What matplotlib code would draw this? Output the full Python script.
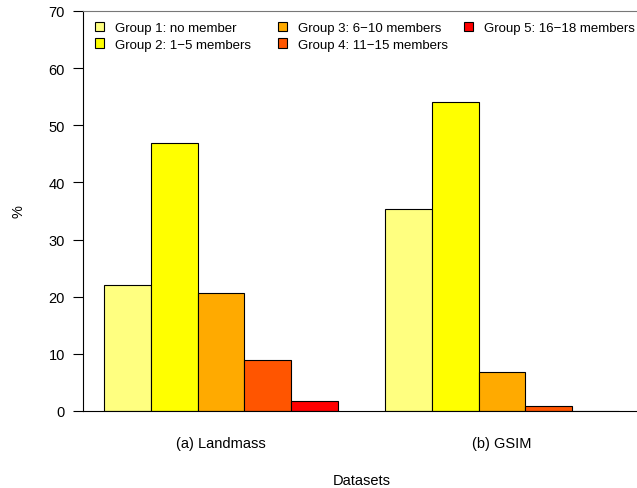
import numpy as np
import matplotlib.pyplot as plt
from matplotlib.patches import Patch

plt.rcParams['font.family'] = ['Liberation Sans', 'DejaVu Sans']

datasets = ['(a) Landmass', '(b) GSIM']
groups = ['Group 1: no member', 'Group 2: 1\u22125 members', 'Group 3: 6\u221210 members',
          'Group 4: 11\u221215 members', 'Group 5: 16\u221218 members']
colors = ['#FFFF80', '#FFFF00', '#FFAA00', '#FF5500', '#FF0000']

landmass = [22.0, 46.9, 20.6, 8.9, 1.7]
gsim = [35.4, 54.1, 6.8, 0.8, 0.0]
values = np.array([landmass, gsim])

fig = plt.figure(figsize=(6.37, 4.89), dpi=100)
ax = fig.add_axes([0.131, 0.1575, 0.873, 0.818])

n_groups, n_bars = values.shape
fs = 10.5
lfs = 9.5
for g in range(n_groups):
    lefts = 1 + g * (n_bars + 1) + np.arange(n_bars)
    ax.bar(lefts, values[g], width=1, align='edge', color=colors,
           edgecolor='black', linewidth=0.8, zorder=2)

centers = 1 + np.arange(n_groups) * (n_bars + 1) + n_bars / 2
ax.set_xticks(centers)
ax.set_xticklabels(datasets, fontsize=fs)
ax.tick_params(axis='x', length=0, pad=18)
ax.set_xlim(0.56, 12.44)
ax.set_ylim(0, 70)
ax.set_yticks(np.arange(0, 71, 10))
ax.tick_params(axis='y', length=7.2, width=0.8, pad=6, labelsize=fs)

ax.spines['right'].set_visible(False)
ax.spines['top'].set_color('#777777')
ax.spines['left'].set_linewidth(0.8)
ax.spines['bottom'].set_linewidth(0.8)
ax.spines['top'].set_linewidth(0.8)

ax.set_xlabel('Datasets', fontsize=fs, va='center')
ax.xaxis.set_label_coords(0.5, -0.1725)
ax.set_ylabel('%', fontsize=fs, va='center')
ax.yaxis.set_label_coords(-0.1176, 0.5)

# legend: three columns with uniform spacing
cols = [[0, 1], [2, 3], [4]]
col_x = [0.0016, 0.330, 0.665]
legs = []
for cx, idx in zip(col_x, cols):
    handles = [Patch(facecolor=colors[i], edgecolor='black', linewidth=0.8) for i in idx]
    leg = ax.legend(handles, [groups[i] for i in idx], loc='upper left',
                    bbox_to_anchor=(cx, 1.0), frameon=False, fontsize=lfs,
                    handlelength=0.7, handleheight=0.7, handletextpad=0.82,
                    labelspacing=0.35, borderaxespad=0.4)
    legs.append(leg)
for leg in legs[:-1]:
    ax.add_artist(leg)

fig.savefig('out.png', dpi=100)
